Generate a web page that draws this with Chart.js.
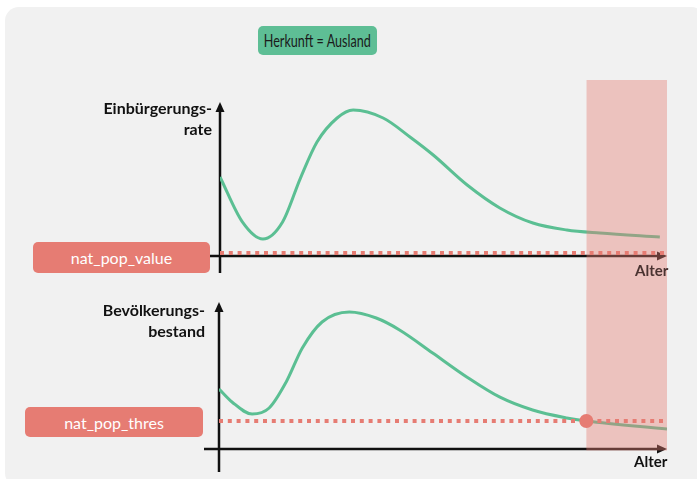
<!DOCTYPE html>
<html>
<head>
<meta charset="utf-8">
<script src="https://cdn.jsdelivr.net/npm/chart.js@4"></script>
<style>
  body { margin: 0; background: #fff; font-family: 'Lato', sans-serif; }
  #page { position: relative; width: 697px; height: 479px; overflow: hidden; }
  #panel { position: absolute; left: 5px; top: 7px; width: 700px; height: 480px; background: #f1f1f1; border-radius: 14px; }
  canvas { position: absolute; left: 0; }
  .box { position: absolute; border-radius: 5px; display: flex; align-items: center; justify-content: center; z-index: 2; white-space: nowrap; }
  .green { background: #5ebe95; color: #1b1b1b; font-size: 17px; }
  .green span { display: inline-block; transform: scaleX(0.74); }
  .red { background: #e67c73; color: #fff; font-size: 16px; }
  .ytitle { position: absolute; z-index: 2; text-align: right; font-weight: bold; font-size: 16px; line-height: 21px; color: #111; white-space: nowrap; }
  .xtitle { position: absolute; z-index: 2; font-weight: bold; font-size: 15px; line-height: 18px; }
</style>
</head>
<body>
<div id="page">
  <div id="panel"></div>
  <div class="box green" style="left:258px;top:26px;width:119px;height:29px;"><span>Herkunft = Ausland</span></div>

  <canvas id="topChart" width="697" height="210" style="top:80px;"></canvas>
  <canvas id="bottomChart" width="697" height="189" style="top:290px;"></canvas>

  <div class="ytitle" style="right:485px;top:97px;">Einbürgerungs-<br>rate</div>
  <div class="box red" style="left:33px;top:242px;width:177px;height:31px;">nat_pop_value</div>
  <div class="xtitle" style="left:635px;top:261px;color:#4a3331;">Alter</div>

  <div class="ytitle" style="right:492px;top:299px;">Bevölkerungs-<br>bestand</div>
  <div class="box red" style="left:25px;top:407px;width:178px;height:30px;">nat_pop_thres</div>
  <div class="xtitle" style="left:634px;top:452px;color:#111;">Alter</div>
</div>

<script>
// Farben
const colors = {
    green: '#5bbf93',
    red: '#e67c73',
    band: 'rgba(230, 124, 115, 0.4)',
    axis: '#111111'
};

// Achse: Alter 0..100, Werte 0..100 (schematisch)
const ageMax = 100;
const ageLimit = 82;

// Einbürgerungsrate
const agesRate = [0, 5, 9.6, 14, 18, 21.7, 26.2, 29.8, 36.5, 42.5, 47.7, 55.3, 62.6, 70, 77.6, 85, 98.4];
const rateValues = [51.3, 22.1, 11, 22.1, 50.6, 74, 89.6, 94.8, 89.6, 77.3, 65.6, 46.1, 31.2, 21.4, 16.9, 14.9, 12.3];
const natPopValue = 2;

// Bevölkerungsbestand
const agesStock = [0, 2.9, 7.4, 11.2, 15, 18.6, 23, 29.1, 35.1, 40.3, 47.7, 55.3, 62.6, 70, 77.6, 82, 100];
const stockValues = [40.8, 32, 23.8, 27.9, 45.6, 68.7, 86.4, 93.2, 89.1, 81, 65.3, 49, 35.4, 26.5, 21.1, 19, 13.6];
const natPopThres = 19;

Chart.defaults.font.family = "'Lato', sans-serif";

/**
 * Achsen mit Pfeilspitzen
 */
const arrowAxes = {
    id: 'arrowAxes',
    beforeDatasetsDraw(chart, args, opts) {
        const { ctx, scales: { x, y } } = chart;
        const x0 = x.getPixelForValue(0);
        const y0 = y.getPixelForValue(0);
        const yTop = y.getPixelForValue(y.max);
        const xEnd = x.getPixelForValue(x.max);
        ctx.save();
        ctx.strokeStyle = colors.axis;
        ctx.fillStyle = colors.axis;
        ctx.lineWidth = 2.5;
        ctx.beginPath();
        ctx.moveTo(x0, y0 + opts.below);
        ctx.lineTo(x0, yTop + 6);
        ctx.moveTo(x0 - opts.left, y0);
        ctx.lineTo(xEnd - 6, y0);
        ctx.stroke();
        ctx.beginPath();
        ctx.moveTo(x0, yTop);
        ctx.lineTo(x0 - 4.5, yTop + 10);
        ctx.lineTo(x0 + 4.5, yTop + 10);
        ctx.closePath();
        ctx.fill();
        ctx.beginPath();
        ctx.moveTo(xEnd, y0);
        ctx.lineTo(xEnd - 10, y0 - 4.5);
        ctx.lineTo(xEnd - 10, y0 + 4.5);
        ctx.closePath();
        ctx.fill();
        ctx.restore();
    },
    // rosa Bereich ab Altersgrenze, über der Kurve
    afterDatasetDraw(chart, args, opts) {
        if (args.index !== 0) return;
        const { ctx, scales: { x, y } } = chart;
        const left = x.getPixelForValue(ageLimit);
        const right = x.getPixelForValue(ageMax);
        const bottom = opts.toAxis ? y.getPixelForValue(0) + 1.5 : chart.height;
        ctx.save();
        ctx.fillStyle = colors.band;
        ctx.fillRect(left, 0, right - left, bottom);
        ctx.restore();
    }
};

function makeChart(id, ages, values, level, pad, axisOpts, withDot) {
    const datasets = [
        {
            data: ages.map((a, i) => ({ x: a, y: values[i] })),
            borderColor: colors.green,
            borderWidth: 3,
            pointRadius: 0,
            cubicInterpolationMode: 'monotone',
            order: 3
        },
        {
            data: [{ x: 0, y: level }, { x: ageMax, y: level }],
            borderColor: colors.red,
            borderWidth: 4,
            borderDash: [4, 4.8],
            borderCapStyle: 'butt',
            pointRadius: 0,
            order: 2
        }
    ];
    if (withDot) {
        datasets.push({
            type: 'scatter',
            data: [{ x: ageLimit, y: level }],
            backgroundColor: colors.red,
            borderWidth: 0,
            pointRadius: 7,
            clip: false,
            order: 1
        });
    }
    return new Chart(document.getElementById(id), {
        type: 'line',
        data: { datasets },
        options: {
            responsive: false,
            animation: false,
            layout: { padding: pad },
            plugins: {
                legend: { display: false },
                tooltip: { enabled: false },
                arrowAxes: axisOpts
            },
            scales: {
                x: { type: 'linear', min: 0, max: ageMax, display: false },
                y: { min: 0, max: 100, display: false }
            }
        },
        plugins: [arrowAxes]
    });
}

makeChart('topChart', agesRate, rateValues, natPopValue,
    { left: 220, right: 30, top: 22, bottom: 34 },
    { below: 17, left: 10, toAxis: false }, false);

makeChart('bottomChart', agesStock, stockValues, natPopThres,
    { left: 219, right: 30, top: 12, bottom: 30 },
    { below: 23, left: 15, toAxis: true }, true);
</script>
</body>
</html>
